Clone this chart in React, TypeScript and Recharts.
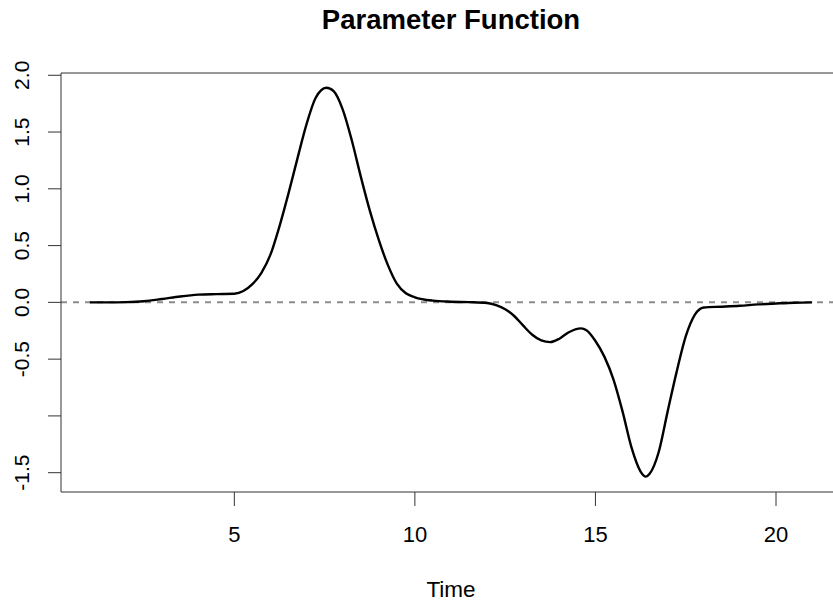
import React from "react";
import { LineChart, Line, XAxis, YAxis, ReferenceLine } from "recharts";

// estimated parameter function over time
const times = [
  1, 1.5, 2, 2.5, 3, 3.5, 4, 4.5, 5, 5.25, 5.5, 5.75, 6, 6.25, 6.5, 6.75, 7, 7.25, 7.55, 7.75,
  8, 8.25, 8.5, 8.75, 9, 9.25, 9.5, 9.75, 10, 10.5, 11, 11.5, 12, 12.25, 12.5, 12.75, 13, 13.25,
  13.5, 13.75, 14, 14.25, 14.6, 14.75, 15, 15.25, 15.5, 15.75, 16, 16.25, 16.4, 16.5, 16.75, 17,
  17.25, 17.5, 17.75, 18, 18.5, 19, 19.5, 20, 20.5, 21,
];
const values = [
  0.0, 0.0, 0.002, 0.01, 0.03, 0.052, 0.068, 0.073, 0.076, 0.1, 0.16, 0.26, 0.42, 0.67, 0.96, 1.27, 1.57, 1.8, 1.89, 1.86,
  1.7, 1.43, 1.11, 0.81, 0.55, 0.33, 0.165, 0.08, 0.045, 0.015, 0.006, 0.002, -0.006, -0.025, -0.06, -0.12, -0.205, -0.285,
  -0.335, -0.35, -0.32, -0.265, -0.229, -0.245, -0.34, -0.48, -0.68, -0.96, -1.28, -1.49, -1.535, -1.51, -1.32, -0.96,
  -0.61, -0.3, -0.11, -0.045, -0.038, -0.03, -0.018, -0.01, -0.003, 0.0,
];

const xTicks = [5, 10, 15, 20];
const yTicks = [-1.5, -1, -0.5, 0, 0.5, 1, 1.5, 2];
const yHidden = [-1]; // R drops this label because it would collide

const rows = times.map((t, i) => ({ t, v: values[i] }));

const FONT = '"Liberation Sans", Arial, Helvetica, sans-serif';
const AXIS = "#333";

const YTick = (props: any) => {
  const { y, payload } = props;
  if (yHidden.includes(payload.value)) return <g />;
  return (
    <text
      x={22}
      y={y}
      transform={`rotate(-90, 22, ${y})`}
      textAnchor="middle"
      dominantBaseline="central"
      fontSize={21}
      fontFamily={FONT}
      fill="#000"
    >
      {payload.value.toFixed(1)}
    </text>
  );
};

export default function App() {
  return (
    <div style={{ position: "fixed", left: 0, top: 0, width: 833, height: 602, overflow: "hidden", background: "#fff" }}>
      <LineChart width={850} height={602} data={rows} margin={{ top: 73, right: 9, bottom: 0, left: 0 }}>
        <XAxis
          dataKey="t"
          type="number"
          domain={[0.2, 21.8]}
          ticks={xTicks}
          height={110}
          tickSize={14}
          tickMargin={20}
          axisLine={{ stroke: AXIS }}
          tickLine={{ stroke: AXIS }}
          tick={{ fontSize: 22, fill: "#000", fontFamily: FONT }}
        />
        <YAxis
          type="number"
          domain={[-1.67, 2.02]}
          ticks={yTicks}
          width={61}
          tickSize={13}
          axisLine={{ stroke: AXIS }}
          tickLine={{ stroke: AXIS }}
          tick={<YTick />}
        />
        <ReferenceLine y={2.02} stroke={AXIS} />
        <ReferenceLine y={0} stroke="#8c8c8c" strokeWidth={2} strokeDasharray="6 6" />
        <Line
          type="monotone"
          dataKey="v"
          stroke="#000"
          strokeWidth={2.4}
          dot={false}
          isAnimationActive={false}
        />
      </LineChart>
      <svg width={833} height={602} style={{ position: "absolute", left: 0, top: 0, pointerEvents: "none" }}>
        <text x={451} y={29} textAnchor="middle" fontSize={27.5} fontWeight="bold" fontFamily={FONT} fill="#000">
          Parameter Function
        </text>
        <text x={451} y={597} textAnchor="middle" fontSize={22.5} fontFamily={FONT} fill="#000">
          Time
        </text>
      </svg>
    </div>
  );
}
